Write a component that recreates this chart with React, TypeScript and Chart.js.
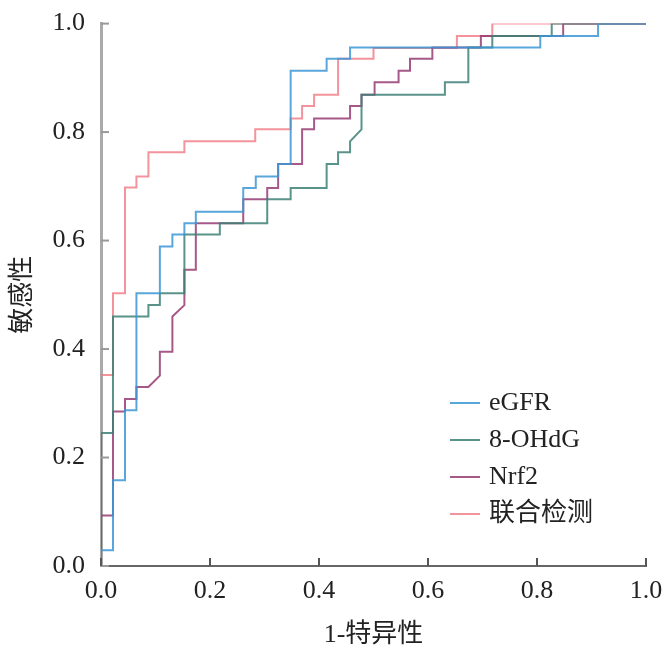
import React, { useEffect, useRef } from "react";
import { Chart, registerables } from "chart.js";
Chart.register(...registerables);

const seriesNames = ["eGFR", "8-OHdG", "Nrf2", "联合检测"];
const seriesColors = ["rgba(60,150,215,0.85)", "rgba(60,128,118,0.85)", "rgba(150,60,115,0.85)", "rgba(240,120,130,0.8)"];

const egfrX = [0, 0, 0.022, 0.022, 0.044, 0.044, 0.065, 0.065, 0.108, 0.108, 0.131, 0.131, 0.153, 0.153, 0.174, 0.174, 0.261, 0.261, 0.284, 0.284, 0.325, 0.325, 0.348, 0.348, 0.414, 0.414, 0.457, 0.457, 0.806, 0.806, 0.912, 0.912, 1];
const egfrY = [0, 0.029, 0.029, 0.158, 0.158, 0.287, 0.287, 0.503, 0.503, 0.589, 0.589, 0.611, 0.611, 0.632, 0.632, 0.653, 0.653, 0.697, 0.697, 0.718, 0.718, 0.741, 0.741, 0.913, 0.913, 0.935, 0.935, 0.956, 0.956, 0.977, 0.977, 1, 1];

const ohdgX = [0, 0, 0.022, 0.022, 0.087, 0.087, 0.108, 0.108, 0.153, 0.153, 0.218, 0.218, 0.305, 0.305, 0.348, 0.348, 0.414, 0.414, 0.435, 0.435, 0.457, 0.457, 0.478, 0.478, 0.631, 0.631, 0.674, 0.674, 0.718, 0.718, 0.827, 0.827, 1];
const ohdgY = [0, 0.245, 0.245, 0.46, 0.46, 0.481, 0.481, 0.503, 0.503, 0.611, 0.611, 0.632, 0.632, 0.676, 0.676, 0.697, 0.697, 0.741, 0.741, 0.763, 0.763, 0.783, 0.805, 0.869, 0.869, 0.892, 0.892, 0.956, 0.956, 0.977, 0.977, 1, 1];

const nrf2X = [0, 0, 0.022, 0.022, 0.044, 0.044, 0.065, 0.065, 0.087, 0.108, 0.108, 0.131, 0.131, 0.153, 0.153, 0.174, 0.174, 0.261, 0.261, 0.305, 0.305, 0.325, 0.325, 0.369, 0.369, 0.391, 0.391, 0.457, 0.457, 0.478, 0.478, 0.502, 0.502, 0.546, 0.546, 0.567, 0.567, 0.608, 0.608, 0.697, 0.697, 0.848, 0.848, 1];
const nrf2Y = [0, 0.093, 0.093, 0.285, 0.285, 0.308, 0.308, 0.33, 0.33, 0.351, 0.395, 0.395, 0.46, 0.481, 0.546, 0.546, 0.632, 0.632, 0.676, 0.676, 0.697, 0.697, 0.741, 0.741, 0.805, 0.805, 0.825, 0.825, 0.848, 0.848, 0.869, 0.869, 0.892, 0.892, 0.913, 0.913, 0.935, 0.935, 0.956, 0.956, 0.977, 0.977, 1, 1];

const combX = [0, 0, 0.022, 0.022, 0.044, 0.044, 0.065, 0.065, 0.087, 0.087, 0.153, 0.153, 0.283, 0.283, 0.348, 0.348, 0.369, 0.369, 0.391, 0.391, 0.435, 0.435, 0.5, 0.5, 0.653, 0.653, 0.718, 0.718, 1];
const combY = [0, 0.352, 0.352, 0.503, 0.503, 0.698, 0.698, 0.718, 0.718, 0.763, 0.763, 0.783, 0.783, 0.805, 0.805, 0.825, 0.825, 0.848, 0.848, 0.869, 0.869, 0.935, 0.935, 0.955, 0.955, 0.977, 0.977, 1, 1];

const xs = [egfrX, ohdgX, nrf2X, combX];
const ys = [egfrY, ohdgY, nrf2Y, combY];
const tickValues = [0, 0.2, 0.4, 0.6, 0.8, 1.0];

const FONT = "'Liberation Serif', 'DejaVu Serif', serif";
const CJK = FONT + ", 'Noto Sans CJK SC'";

export default function App() {
  const ref = useRef<HTMLCanvasElement>(null);
  useEffect(() => {
    const tickPlugin = {
      id: "innerTicks",
      afterDraw(chart: any) {
        const ctx = chart.ctx;
        const xs_ = chart.scales.x, ys_ = chart.scales.y, a = chart.chartArea;
        ctx.save();
        ctx.strokeStyle = "#999";
        ctx.lineWidth = 2;
        tickValues.forEach((v) => {
          const py = ys_.getPixelForValue(v);
          ctx.beginPath(); ctx.moveTo(a.left, py); ctx.lineTo(a.left + 8, py); ctx.stroke();
        });
        ctx.strokeStyle = "#555";
        tickValues.forEach((v) => {
          const px = xs_.getPixelForValue(v);
          ctx.beginPath(); ctx.moveTo(px, a.bottom); ctx.lineTo(px, a.bottom - 8); ctx.stroke();
        });
        // legend
        ctx.font = "26px " + CJK;
        ctx.textBaseline = "middle";
        ctx.fillStyle = "#222";
        chart.data.datasets.forEach((d: any, i: number) => {
          const y = a.bottom - 163 + i * 37;
          ctx.strokeStyle = d.borderColor;
          ctx.lineWidth = 2;
          ctx.beginPath(); ctx.moveTo(a.right - 196, y); ctx.lineTo(a.right - 166, y); ctx.stroke();
          ctx.fillText(d.label, a.right - 157, y);
        });
        ctx.restore();
      },
    };
    const chart = new Chart(ref.current!, {
      type: "line",
      data: {
        datasets: seriesNames.map((n, i) => ({
          label: n,
          data: xs[i].map((x, j) => ({ x, y: ys[i][j] })),
          borderColor: seriesColors[i],
          backgroundColor: seriesColors[i],
          borderWidth: 2,
          pointRadius: 0,
          tension: 0,
          fill: false,
        })),
      },
      options: {
        animation: false,
        responsive: false,
        layout: { padding: { top: 10, right: 22, left: 8, bottom: 0 } },
        plugins: {
          legend: { display: false },
          tooltip: { enabled: false },
        },
        scales: {
          x: {
            type: "linear", min: 0, max: 1,
            afterFit: (s: any) => { s.height = 89; },
            afterBuildTicks: (s: any) => { s.ticks = tickValues.map((v) => ({ value: v })); },
            grid: { display: false },
            border: { display: true, color: "#666", width: 2 },
            ticks: { color: "#222", font: { family: FONT, size: 26 }, padding: 2, callback: (v: any) => Number(v).toFixed(1), maxRotation: 0 },
            title: { display: true, text: "1-特异性", color: "#222", font: { family: CJK, size: 26 }, padding: { top: 4 } },
          },
          y: {
            type: "linear", min: 0, max: 1,
            afterFit: (s: any) => { s.width = 93; },
            afterBuildTicks: (s: any) => { s.ticks = tickValues.map((v) => ({ value: v })); },
            grid: { display: false },
            border: { display: true, color: "#aaa", width: 3 },
            ticks: { color: "#222", font: { family: FONT, size: 26 }, padding: 8, callback: (v: any) => Number(v).toFixed(1) },
            title: { display: true, text: "敏感性", color: "#222", font: { family: CJK, size: 26 }, padding: 0 },
          },
        },
      },
      plugins: [tickPlugin],
    });
    return () => chart.destroy();
  }, []);
  return (
    <div style={{ position: "absolute", left: 0, top: 0, width: 668, height: 655, background: "#fff" }}>
      <canvas ref={ref} width={668} height={655} />
    </div>
  );
}
